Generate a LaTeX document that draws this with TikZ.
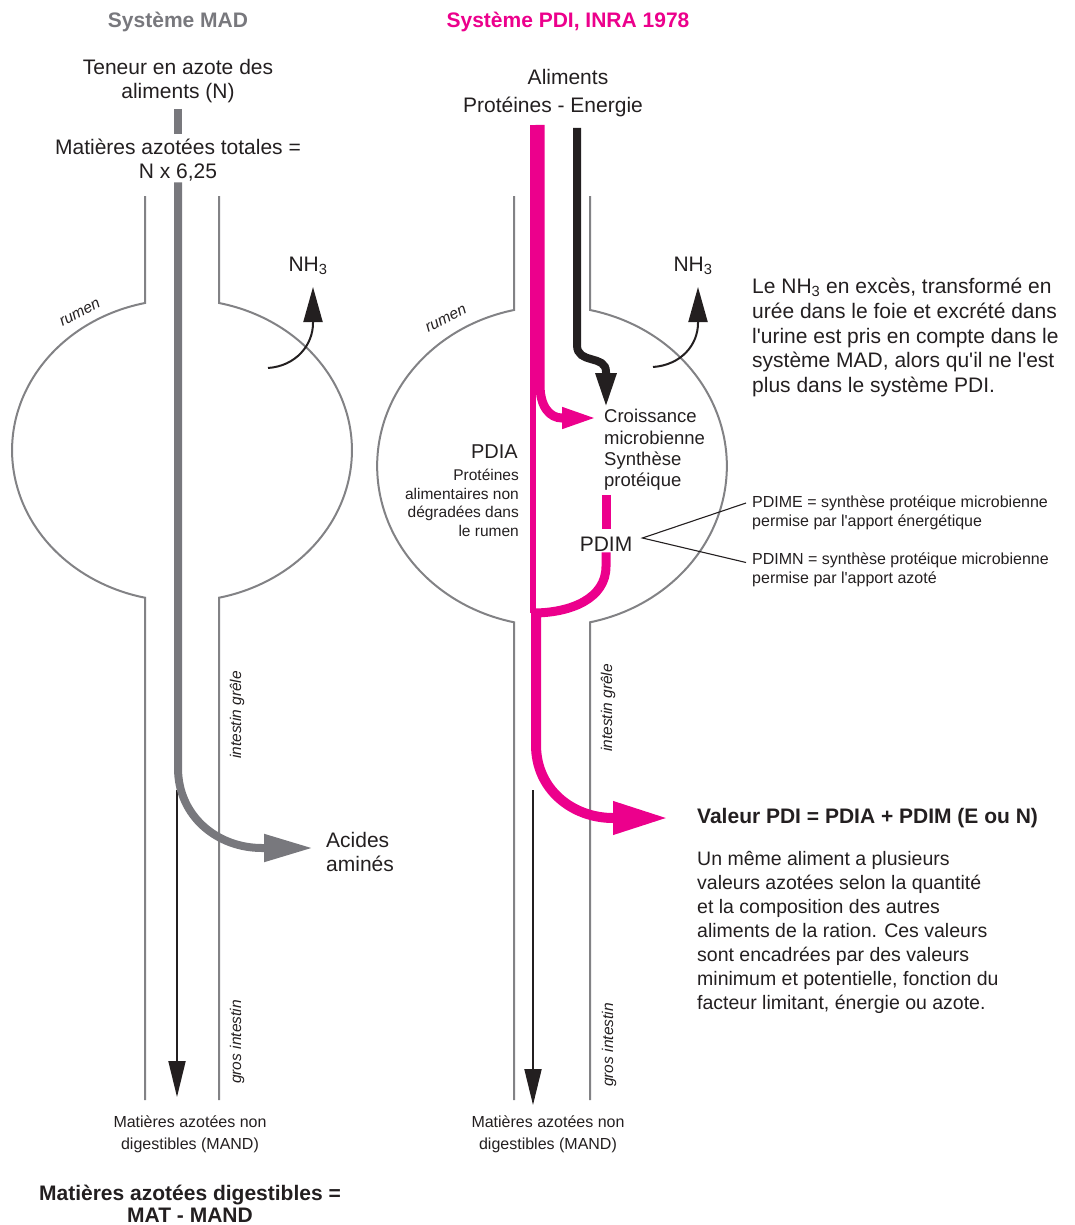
\documentclass[tikz,border=0pt]{standalone}
\usepackage{fontspec}
\setmainfont{Liberation Sans}
\usetikzlibrary{arrows.meta, positioning}

\definecolor{madgray}{RGB}{120,120,125}
\definecolor{wallgray}{RGB}{130,130,133}
\definecolor{pdipink}{RGB}{236,0,140}
\definecolor{ink}{RGB}{35,31,32}

\begin{document}
\begin{tikzpicture}[x=1pt, y=-1pt,
    title/.style={font=\fontsize{21}{24}\selectfont\bfseries, inner sep=1pt},
    txt/.style={font=\fontsize{21}{24}\selectfont, text=ink, align=center, inner sep=1pt},
    note/.style={font=\fontsize{21}{24.7}\selectfont, text=ink, align=left, anchor=west, inner sep=0pt},
    smalltxt/.style={font=\fontsize{15.5}{18.7}\selectfont, text=ink, inner sep=0pt},
    foot/.style={font=\fontsize{16}{22}\selectfont, text=ink, align=center, inner sep=1pt},
    organ/.style={font=\fontsize{15.5}{18}\selectfont\itshape, text=ink, inner sep=0pt},
    wall/.style={draw=wallgray, line width=2pt},
    madbar/.style={draw=madgray, line width=8pt},
    madflow/.style={madbar, -{Triangle[length=49pt, width=26pt]}},
    pdibar/.style={draw=pdipink, line width=9pt},
    pdiathin/.style={draw=pdipink, line width=6pt},
    pdiflow/.style={pdibar, -{Triangle[length=36pt, width=19pt]}},
    pdibig/.style={draw=pdipink, line width=10pt, -{Triangle[length=55pt, width=31pt]}},
    enflow/.style={draw=ink, line width=8pt, -{Triangle[length=35pt, width=19pt]}},
    nhflow/.style={draw=ink, line width=2pt, -{Triangle[length=35pt, width=19pt]}},
    outflow/.style={draw=ink, line width=2pt, -{Triangle[length=36pt, width=17pt]}},
    leader/.style={draw=ink, line width=1.1pt}
  ]

  \useasboundingbox (0,0) rectangle (1075,1225);

  % tubes: oesophage, rumen, intestins
  \foreach \cx/\g/\rx/\ry/\ya in {182/37/170/151/303, 552/38/175/160/310} {
    \draw[wall] (\cx-\g,196) -- (\cx-\g,\ya) arc[start angle=-102.6, end angle=-257.4, x radius=\rx, y radius=\ry] -- (\cx-\g,1100);
    \draw[wall] (\cx+\g,196) -- (\cx+\g,\ya) arc[start angle=-77.4, end angle=77.4, x radius=\rx, y radius=\ry] -- (\cx+\g,1100);
  }

  % Systeme MAD
  \node[title, text=madgray] (madtitle) at (178,22) {Système MAD};
  \node[txt] (teneur) at (178,81) {Teneur en azote des\\aliments (N)};
  \node[txt] (mat) at (178,160) {Matières azotées totales =\\N x 6,25};
  \node[organ, rotate=28] (rumen1) at (80,313) {rumen};
  \node[txt] (nh3mad) at (308,266) {NH\textsubscript{3}};
  \node[txt, align=left, anchor=west] (acides) at (325,852) {Acides\\aminés};
  \node[organ, rotate=90] (grele1) at (237,715) {intestin grêle};
  \node[organ, rotate=90] (gros1) at (237,1042) {gros intestin};
  \node[foot] (mand1) at (190,1134) {Matières azotées non\\digestibles (MAND)};
  \node[title, text=ink, font=\fontsize{21}{22}\selectfont\bfseries, align=center] (madvalue) at (190,1204) {Matières azotées digestibles =\\MAT - MAND};

  % Systeme PDI
  \node[title, text=pdipink] (pdititle) at (568,22) {Système PDI, INRA 1978};
  \node[txt] (aliments) at (568,77) {Aliments};
  \node[txt] (protener) at (553,107) {Protéines - Energie};
  \node[organ, rotate=27] (rumen2) at (446,319) {rumen};
  \node[txt] (nh3pdi) at (693,266) {NH\textsubscript{3}};
  \node[note] (nh3note) at (752,337.5) {Le NH\textsubscript{3} en excès, transformé en\\urée dans le foie et excrété dans\\l\textquotesingle urine est pris en compte dans le\\système MAD, alors qu\textquotesingle il ne l\textquotesingle est\\plus dans le système PDI.};
  \node[txt, anchor=east, font=\fontsize{20}{24}\selectfont] (pdia) at (519,452) {PDIA};
  \node[smalltxt, align=right, anchor=east] (pdiadesc) at (519,503) {Protéines\\alimentaires non\\dégradées dans\\le rumen};
  \node[txt, anchor=west, align=left, font=\fontsize{18.5}{21.3}\selectfont] (croiss) at (603,450) {Croissance\\microbienne\\Synthèse\\protéique};
  \node[txt] (pdim) at (606,544) {PDIM};
  \node[smalltxt, align=left, anchor=west, font=\fontsize{16}{18.7}\selectfont] (pdime) at (752,513) {PDIME = synthèse protéique microbienne\\permise par l\textquotesingle apport énergétique};
  \node[smalltxt, align=left, anchor=west, font=\fontsize{16}{18.7}\selectfont] (pdimn) at (752,569.5) {PDIMN = synthèse protéique microbienne\\permise par l\textquotesingle apport azoté};
  \node[note, font=\fontsize{21}{24}\selectfont\bfseries] (valeur) at (697,818) {Valeur PDI = PDIA + PDIM (E ou N)};
  \node[note, font=\fontsize{19.5}{24}\selectfont] (valtext) at (697,932) {Un même aliment a plusieurs\\valeurs azotées selon la quantité\\et la composition des autres\\aliments de la ration. Ces valeurs\\sont encadrées par des valeurs\\minimum et potentielle, fonction du\\facteur limitant, énergie ou azote.};
  \node[organ, rotate=90] (grele2) at (608,708) {intestin grêle};
  \node[organ, rotate=90] (gros2) at (609,1045) {gros intestin};
  \node[foot] (mand2) at (548,1134) {Matières azotées non\\digestibles (MAND)};

  % flux MAD
  \coordinate (madturn) at (178,768);
  \coordinate (madtip) at (313,848);
  \coordinate (madsplit) at (177,790);
  \coordinate (madout) at (177,1097);
  \coordinate (nhfrom1) at (268,368);
  \coordinate (nhto1) at (313,287);
  \draw[outflow] (madsplit) -- (madout);
  \draw[madbar, shorten <=5pt, shorten >=4pt] (teneur) -- (mat);
  \draw[madflow] (mat.south) -- (madturn) .. controls +(0,48) and +(-45,0) .. (262,848) -- (madtip);
  \draw[nhflow] (nhfrom1) .. controls +(28,-2) and +(0,22) .. ([yshift=-36pt]nhto1) -- (nhto1);

  % flux PDI
  \coordinate (pdiatop) at (533,125);
  \coordinate (merge) at (533,613);
  \coordinate (degtop) at (540,125);
  \coordinate (croisstip) at (598,418);
  \coordinate (entop) at (577,128);
  \coordinate (valtip) at (668,818);
  \coordinate (pdisplit) at (533,790);
  \coordinate (pdiout) at (533,1105);
  \coordinate (nhfrom2) at (653,367);
  \coordinate (nhto2) at (698,287);
  \draw[outflow] (pdisplit) -- (pdiout);
  \draw[pdiathin] (pdiatop) -- (merge);
  \draw[pdiflow] (degtop) -- (540,385) .. controls +(0,22) and +(-12,0) .. (562,418) -- (croisstip);
  \draw[enflow] (entop) -- (577,345) .. controls +(0,20) and +(0,-18) .. (606,372) -- (croiss.north -| pdim.north);
  \draw[pdibar, shorten <=3pt, shorten >=7pt] (pdim.north |- croiss.south) -- (pdim.north);
  \draw[pdibar] (pdim.south) -- ++(0,14) .. controls +(0,32) and +(38,0) .. (merge);
  \draw[pdibig] ([xshift=3pt]merge) -- (536,745) .. controls +(0,45) and +(-40,0) .. (613,818) -- (valtip);
  \draw[nhflow] (nhfrom2) .. controls +(28,-2) and +(0,22) .. ([yshift=-36pt]nhto2) -- (nhto2);

  % PDIME / PDIMN
  \draw[leader] ([xshift=-6pt,yshift=10pt]pdime.west) -- ([xshift=9pt,yshift=6pt]pdim.east) -- ([xshift=-6pt,yshift=7pt]pdimn.west);
\end{tikzpicture}
\end{document}
